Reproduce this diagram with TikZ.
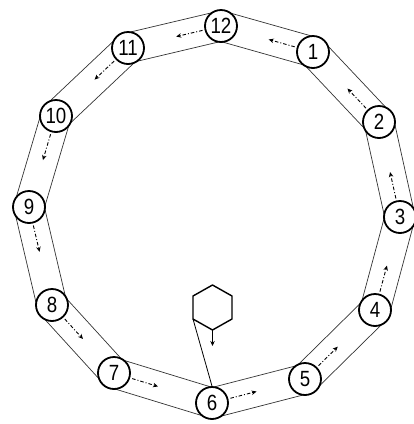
\documentclass[tikz,border=0pt]{standalone}
\usepackage{fontspec}
\usepackage{graphicx}
\setmainfont{Liberation Sans}
\usetikzlibrary{calc,arrows.meta,backgrounds}
\newcommand\dg[1]{\scalebox{0.85}[1]{#1}}
\begin{document}
\begin{tikzpicture}[x=1pt,y=-1pt,
  num/.style={circle,draw,line width=1.8pt,fill=white,minimum size=32pt,inner sep=0pt,font=\fontsize{22}{22}\selectfont},
  band/.style={line width=0.7pt,draw=black!80},
  flow/.style={line width=0.9pt,dash pattern=on 3.5pt off 2pt on 1pt off 2pt,-{Stealth[length=5pt,width=4.5pt]}},
  hexline/.style={line width=1.4pt,line join=round}]
\useasboundingbox (0,0) rectangle (414,424);
% stations
\node[num] (n12) at (221,26) {\dg{12}};
\node[num] (n1) at (313,52) {\dg{1}};
\node[num] (n2) at (379,122) {\dg{2}};
\node[num] (n3) at (400,217) {\dg{3}};
\node[num] (n4) at (375,310) {\dg{4}};
\node[num] (n5) at (305,379) {\dg{5}};
\node[num] (n6) at (212,403) {\dg{6}};
\node[num] (n7) at (114,373) {\dg{7}};
\node[num] (n8) at (52,305) {\dg{8}};
\node[num] (n9) at (29,207) {\dg{9}};
\node[num] (n10) at (56,116) {\dg{10}};
\node[num] (n11) at (128,48) {\dg{11}};
% band
\begin{scope}[on background layer]
\foreach \a/\b in {n12/n1,n1/n2,n2/n3,n3/n4,n4/n5,n5/n6,n6/n7,n7/n8,n8/n9,n9/n10,n10/n11,n11/n12}{
  \draw[band] ($(\a.center)!15pt!90:(\b.center)$) -- ($(\b.center)!15pt!-90:(\a.center)$);
  \draw[band] ($(\a.center)!15pt!-90:(\b.center)$) -- ($(\b.center)!15pt!90:(\a.center)$);
}
\end{scope}
% flow arrows
\foreach \a/\b in {n6/n5,n5/n4,n4/n3,n3/n2,n2/n1,n1/n12,n12/n11,n11/n10,n10/n9,n9/n8,n8/n7,n7/n6}{
  \draw[flow] ($(\a.center)!19pt!(\b.center)$) -- ($(\a.center)!46pt!(\b.center)$);
}
% hexagon
\coordinate (h1) at (212.5,285);
\coordinate (h2) at (232,296);
\coordinate (h3) at (232,319);
\coordinate (h4) at (212.5,330);
\coordinate (h5) at (193,319);
\coordinate (h6) at (193,296);
\coordinate (hend) at (212.5,346);
\draw[hexline] (h1) -- (h2) -- (h3) -- (h4) -- (h5) -- (h6) -- cycle;
\draw[line width=0.8pt] (h5) -- (n6.north);
\draw[line width=0.9pt,-{Stealth[length=5pt,width=4.5pt]}] (h4) -- (hend);
\end{tikzpicture}
\end{document}
